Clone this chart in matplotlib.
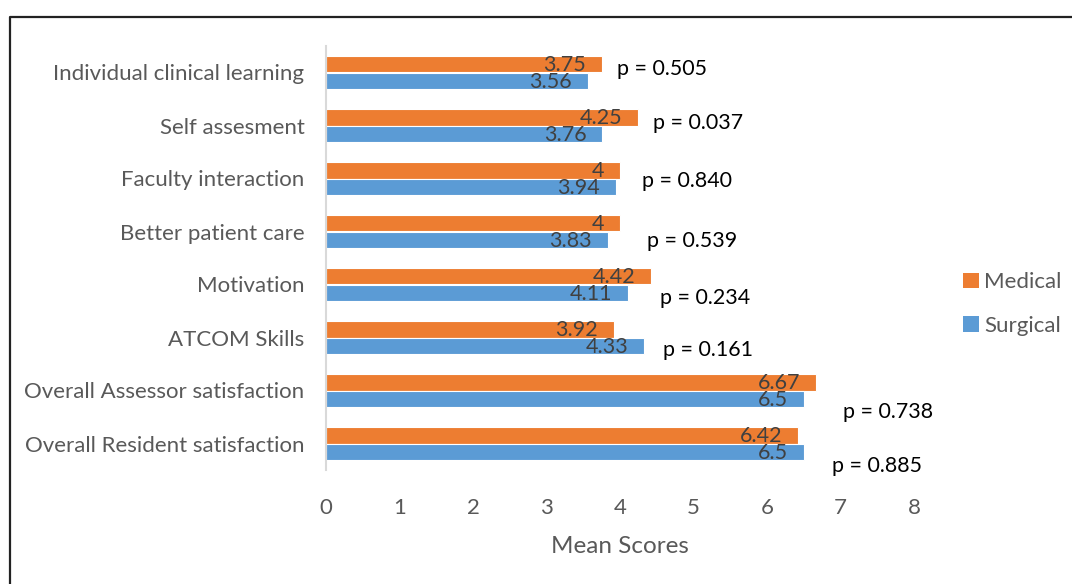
import matplotlib
matplotlib.use("Agg")
import matplotlib.pyplot as plt
from matplotlib.lines import Line2D
from matplotlib.patches import Patch

plt.rcParams['font.family'] = ['Lato', 'DejaVu Sans']

categories = [
    "Individual clinical learning",
    "Self assesment",
    "Faculty interaction",
    "Better patient care",
    "Motivation",
    "ATCOM Skills",
    "Overall Assessor satisfaction",
    "Overall Resident satisfaction",
]
medical = [3.75, 4.25, 4, 4, 4.42, 3.92, 6.67, 6.42]
surgical = [3.56, 3.76, 3.94, 3.83, 4.11, 4.33, 6.5, 6.5]
p_values = ["0.505", "0.037", "0.840", "0.539", "0.234", "0.161", "0.738", "0.885"]
x_ticks = [0, 1, 2, 3, 4, 5, 6, 7, 8]

# where each p-value note sits (x in score units, y shift within the category band)
p_x = [3.96, 4.45, 4.30, 4.37, 4.54, 4.585, 7.03, 6.88]
p_dy = [-0.075, -0.04, 0.04, 0.17, 0.25, 0.23, 0.40, 0.42]

ORANGE = "#ED7D31"
BLUE = "#5B9BD5"
GREY = "#595959"
LABEL = "#404040"

fig = plt.figure(figsize=(10.72, 5.84), dpi=100)
ax = fig.add_axes([326 / 1072, 1 - 470 / 584, (914 - 326) / 1072, (470 - 46) / 584])

bar_h = 0.32
ypos = list(range(len(categories)))
bars_m = ax.barh([y - bar_h / 2 for y in ypos], medical, height=bar_h, color=ORANGE,
                 edgecolor="white", linewidth=0.8, label="Medical")
bars_s = ax.barh([y + bar_h / 2 for y in ypos], surgical, height=bar_h, color=BLUE,
                 edgecolor="white", linewidth=0.8, label="Surgical")

for bars, vals in ((bars_m, medical), (bars_s, surgical)):
    for b, v in zip(bars, vals):
        ax.annotate(f"{v:g}", xy=(v, b.get_y() + b.get_height() / 2),
                    xytext=(-11.5, -0.5), textcoords="offset points",
                    ha="right", va="center", fontsize=15.5, color=LABEL)

for i, (p, px, dy) in enumerate(zip(p_values, p_x, p_dy)):
    ax.text(px, i + dy, f"p = {p}", ha="left", va="center", fontsize=15.4,
            color="black", clip_on=False)

ax.set_xlim(0, 8)
ax.set_ylim(len(categories) - 0.5, -0.5)
ax.set_yticks(ypos)
ax.set_yticklabels(categories, fontsize=16, color=GREY)
ax.set_xticks(x_ticks)
ax.set_xticklabels([str(t) for t in x_ticks], fontsize=16, color=GREY)
ax.tick_params(axis="both", length=0)
ax.tick_params(axis="y", pad=15.5)
ax.tick_params(axis="x", pad=20)
ax.set_xlabel("Mean Scores", fontsize=17.5, color=GREY, labelpad=13)

for s in ("top", "right", "bottom"):
    ax.spines[s].set_visible(False)
ax.spines["left"].set_color("#D9D9D9")
ax.spines["left"].set_linewidth(1.5)

handles = [Patch(facecolor=ORANGE, label="Medical"), Patch(facecolor=BLUE, label="Surgical")]
fig.legend(handles=handles, loc="center left", bbox_to_anchor=(943 / 1072, 1 - 304 / 584),
           frameon=False, fontsize=16, handlelength=0.7, handleheight=0.7,
           handletextpad=0.25, labelspacing=1.05, labelcolor=GREY)

# outer frame
fig.add_artist(Line2D([10 / 1072, 10 / 1072, 1.0], [0.0, 1 - 16.5 / 584, 1 - 16.5 / 584],
                      transform=fig.transFigure, color="#222222", linewidth=1.6))

fig.savefig("out.png", dpi=100, facecolor="white")
